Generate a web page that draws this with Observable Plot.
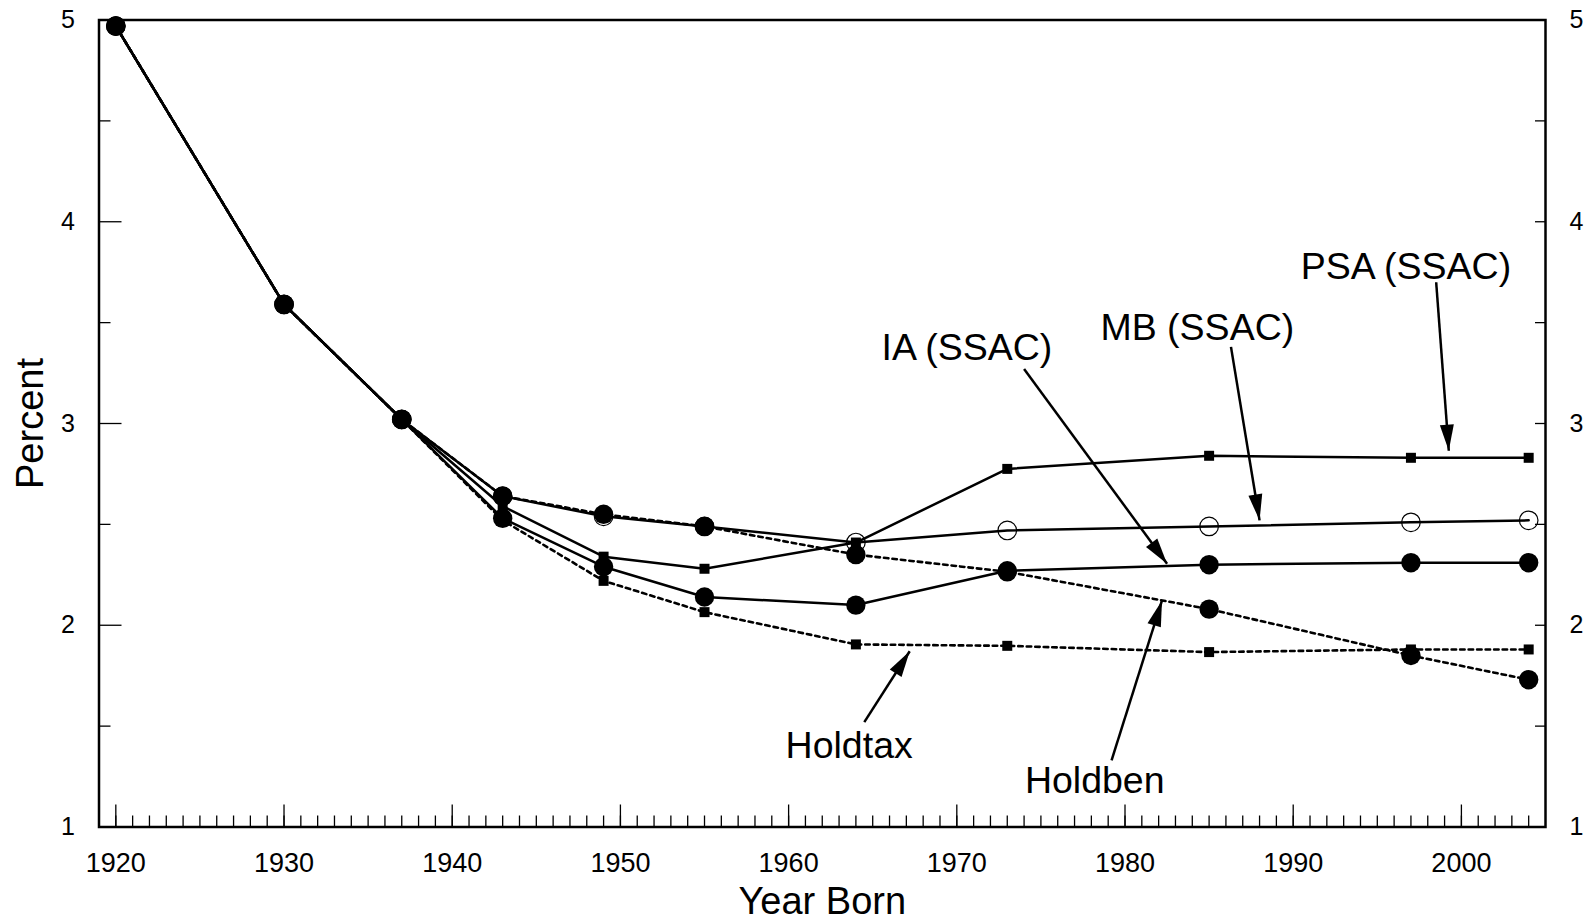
<!DOCTYPE html>
<html>
<head>
<meta charset="utf-8">
<script src="https://cdn.jsdelivr.net/npm/d3@7"></script>
<script src="https://cdn.jsdelivr.net/npm/@observablehq/plot@0.6"></script>
<style>
  html, body { margin: 0; padding: 0; background: #fff; }
  #chart svg { display: block; }
</style>
</head>
<body>
<div id="chart"></div>
<script>
// ---- Data ----
const years   = [1920, 1930, 1937, 1943, 1949, 1955, 1964, 1973, 1985, 1997, 2004];
const psa     = [4.97, 3.59, 3.02, 2.59, 2.34, 2.28, 2.41, 2.775, 2.84, 2.83, 2.83];
const mb      = [4.97, 3.59, 3.02, 2.64, 2.54, 2.49, 2.41, 2.47, 2.49, 2.51, 2.52];
const ia      = [4.97, 3.59, 3.02, 2.53, 2.29, 2.14, 2.10, 2.27, 2.30, 2.31, 2.31];
const holdben = [4.97, 3.59, 3.02, 2.64, 2.55, 2.49, 2.35, 2.265, 2.08, 1.85, 1.73];
const holdtax = [4.97, 3.59, 3.02, 2.52, 2.22, 2.065, 1.905, 1.898, 1.867, 1.88, 1.88];

const xTicksMajor = [1920, 1930, 1940, 1950, 1960, 1970, 1980, 1990, 2000];
const yTicks = [1, 2, 3, 4, 5];
const yTicksHalf = [1.5, 2.5, 3.5, 4.5];

// annotation labels and their positions (data units)
const annLabels = ["PSA (SSAC)", "MB (SSAC)", "IA (SSAC)", "Holdtax", "Holdben"];
const annX      = [1996.7, 1984.3, 1970.6, 1963.6, 1978.2];
const annY      = [3.775, 3.475, 3.375, 1.40, 1.228];
// arrows: start -> tip (data units)
const arrX1 = [1998.5, 1986.3, 1974.0, 1964.5, 1979.2];
const arrY1 = [3.70, 3.38, 3.27, 1.52, 1.33];
const arrX2 = [1999.25, 1988.0, 1982.5, 1967.2, 1982.2];
const arrY2 = [2.865, 2.52, 2.305, 1.871, 2.123];

// ---- Layout ----
const W = 1587, H = 922;
const mL = 98.5, mR = 42, mT = 19.5, mB = 95.5;
const xDomain = [1919, 2005], yDomain = [1, 5];
const kx = (W - mL - mR) / (xDomain[1] - xDomain[0]);
const ky = (H - mT - mB) / (yDomain[1] - yDomain[0]);

const rows = (arr) => years.map((x, i) => ({x, y: arr[i]}));
const ann = annLabels.map((t, i) => ({t, x: annX[i], y: annY[i]}));
const arrows = arrX1.map((x1, i) => {
  const x2 = arrX2[i], y1 = arrY1[i], y2 = arrY2[i];
  const dx = (x2 - x1) * kx, dy = -(y2 - y1) * ky;
  return {x1, y1, x2, y2, angle: Math.atan2(dx, -dy) * 180 / Math.PI};
});

// elongated filled arrowhead pointing up, tip at origin
const arrowHead = {
  draw(context) {
    const L = 26, w = 7;
    context.moveTo(0, 0);
    context.lineTo(-w, L);
    context.lineTo(w, L);
    context.closePath();
  }
};

const font = "'Liberation Sans', Arial, Helvetica, sans-serif";
const solid = {x: "x", y: "y", stroke: "black", strokeWidth: 2.5};
const dotted = {x: "x", y: "y", stroke: "black", strokeWidth: 2.6, strokeDasharray: "4.5,4"};

const chart = Plot.plot({
  width: W, height: H,
  marginLeft: mL, marginRight: mR, marginTop: mT, marginBottom: mB,
  style: {fontFamily: font, background: "white", color: "black"},
  x: {domain: xDomain},
  y: {domain: yDomain},
  marks: [
    // x axis ticks (inward)
    Plot.axisX({ticks: d3.range(1920, 2005), tickSize: -11, tickFormat: () => "", label: null, strokeWidth: 1.3}),
    Plot.axisX({ticks: xTicksMajor, tickSize: -22, tickFormat: () => "", label: null, strokeWidth: 1.3}),
    Plot.axisX({ticks: xTicksMajor, tickSize: 0, tickPadding: 26, tickFormat: d => String(d), label: null, fontSize: 27}),
    // y axis ticks left (inward)
    Plot.axisY({anchor: "left", ticks: yTicks, tickSize: -23, tickFormat: () => "", label: null, strokeWidth: 1.3}),
    Plot.axisY({anchor: "left", ticks: yTicksHalf, tickSize: -12, tickFormat: () => "", label: null, strokeWidth: 1.3}),
    Plot.axisY({anchor: "left", ticks: yTicks, tickSize: 0, tickPadding: 24, tickFormat: d => String(d), label: null, fontSize: 25}),
    // y axis ticks right (inward)
    Plot.axisY({anchor: "right", ticks: [...yTicks, ...yTicksHalf], tickSize: -11, tickFormat: () => "", label: null, strokeWidth: 1.3}),
    Plot.axisY({anchor: "right", ticks: yTicks, tickSize: 0, tickPadding: 24, tickFormat: d => String(d), label: null, fontSize: 25}),
    Plot.frame({stroke: "black", strokeWidth: 2.5}),
    // axis titles
    Plot.text(["Percent"], {frameAnchor: "left", dx: -68, rotate: -90, textAnchor: "middle", lineAnchor: "middle", fontSize: 38, fill: "black"}),
    Plot.text(["Year Born"], {frameAnchor: "bottom", dy: 75, textAnchor: "middle", lineAnchor: "middle", fontSize: 38, fill: "black"}),
    // series lines
    Plot.line(rows(holdtax), dotted),
    Plot.line(rows(holdben), dotted),
    Plot.line(rows(ia), solid),
    Plot.line(rows(mb), solid),
    Plot.line(rows(psa), solid),
    // markers
    Plot.dot(rows(holdtax), {x: "x", y: "y", symbol: "square", r: 5.64, fill: "black"}),
    Plot.dot(rows(psa), {x: "x", y: "y", symbol: "square", r: 5.64, fill: "black"}),
    Plot.dot(rows(holdben), {x: "x", y: "y", r: 9.7, fill: "black"}),
    Plot.dot(rows(ia), {x: "x", y: "y", r: 9.7, fill: "black"}),
    Plot.dot(rows(mb), {x: "x", y: "y", r: 9.3, fill: "none", stroke: "black", strokeWidth: 1.2}),
    // annotations
    Plot.link(arrows, {x1: "x1", y1: "y1", x2: "x2", y2: "y2", stroke: "black", strokeWidth: 2.5}),
    Plot.dot(arrows, {x: "x2", y: "y2", symbol: arrowHead, r: 5, fill: "black", stroke: "none", rotate: "angle"}),
    Plot.text(ann, {x: "x", y: "y", text: "t", fontSize: 37.5, fill: "black"})
  ]
});
document.getElementById("chart").appendChild(chart);
</script>
</body>
</html>
